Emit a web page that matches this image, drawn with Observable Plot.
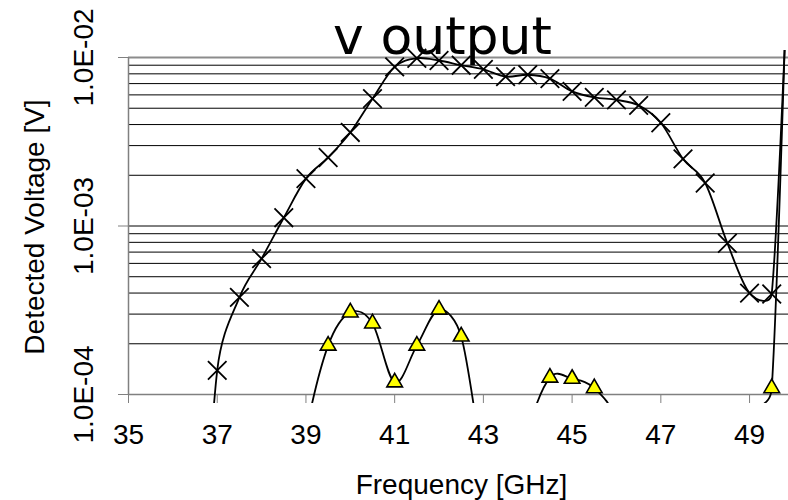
<!DOCTYPE html>
<html><head><meta charset="utf-8">
<script src="https://cdn.jsdelivr.net/npm/d3@7"></script>
<script src="https://cdn.jsdelivr.net/npm/@observablehq/plot@0.6"></script>
<style>body{margin:0;background:#fff;overflow:hidden}</style>
</head><body><div id="chart"></div>
<script>
const title = "v output";
const xLabel = "Frequency [GHz]";
const yLabel = "Detected Voltage [V]";
const xTicks = [35, 37, 39, 41, 43, 45, 47, 49];
const yTicks = [1e-4, 1e-3, 1e-2];
const gridValues = [1e-4,2e-4,3e-4,4e-4,5e-4,6e-4,7e-4,8e-4,9e-4,1e-3,2e-3,3e-3,4e-3,5e-3,6e-3,7e-3,8e-3,9e-3,1e-2];

// series with cross markers
const freqA = [36.5,37,37.5,38,38.5,39,39.5,40,40.5,41,41.5,42,42.5,43,43.5,44,44.5,45,45.5,46,46.5,47,47.5,48,48.5,49,49.5,50];
const voltA = [2e-6,1.39e-4,3.77e-4,6.4e-4,1.12e-3,1.91e-3,2.55e-3,3.59e-3,5.7e-3,8.8e-3,9.9e-3,9.6e-3,9.0e-3,8.5e-3,7.7e-3,7.9e-3,7.5e-3,6.3e-3,5.8e-3,5.6e-3,5.2e-3,4.1e-3,2.5e-3,1.8e-3,7.9e-4,4.0e-4,3.95e-4,0.23];
// series with yellow triangle markers
const freqB = [38.5,39,39.5,40,40.5,41,41.5,42,42.5,43,43.5,44,44.5,45,45.5,46,46.5,47,47.5,48,48.5,49,49.5,50];
const voltB = [1e-5,6e-5,1.95e-4,3.07e-4,2.64e-4,1.18e-4,1.95e-4,3.19e-4,2.21e-4,4e-5,1.5e-5,6e-5,1.26e-4,1.24e-4,1.09e-4,7e-5,2e-5,1e-5,1e-5,1e-5,2e-5,7e-5,1.09e-4,0.73];

const dataA = freqA.map((f, i) => ({f, v: voltA[i]}));
const dataB = freqB.map((f, i) => ({f, v: voltB[i]}));
const inRange = d => d.v >= 0.999e-4 && d.v <= 1.01e-2;
const fmt = d => { const e = Math.round(Math.log10(d)); return "1.0E" + (e < 0 ? "-" : "+") + String(Math.abs(e)).padStart(2, "0"); };

// spreadsheet-style smoothed line: Bezier with (P2-P0)/6 tangents, arms limited to half the segment
function smoothCurve(context) {
  let pts;
  return {
    areaStart() {}, areaEnd() {},
    lineStart() { pts = []; },
    point(x, y) { pts.push([+x, +y]); },
    lineEnd() {
      const n = pts.length;
      if (!n) return;
      context.moveTo(pts[0][0], pts[0][1]);
      for (let i = 0; i < n - 1; i++) {
        const p0 = pts[Math.max(i - 1, 0)], p1 = pts[i], p2 = pts[i + 1], p3 = pts[Math.min(i + 2, n - 1)];
        const half = Math.hypot(p2[0] - p1[0], p2[1] - p1[1]) / 2;
        let ax = (p2[0] - p0[0]) / 6, ay = (p2[1] - p0[1]) / 6;
        const la = Math.hypot(ax, ay); if (la > half) { ax *= half / la; ay *= half / la; }
        let bx = (p3[0] - p1[0]) / 6, by = (p3[1] - p1[1]) / 6;
        const lb = Math.hypot(bx, by); if (lb > half) { bx *= half / lb; by *= half / lb; }
        context.bezierCurveTo(p1[0] + ax, p1[1] + ay, p2[0] - bx, p2[1] - by, p2[0], p2[1]);
      }
    }
  };
}

const plot = Plot.plot({
  width: 788, height: 500,
  marginLeft: 128, marginRight: 0, marginTop: 57, marginBottom: 106,
  style: {fontFamily: "'Liberation Sans', Arial, sans-serif", background: "#fff", overflow: "visible"},
  x: {domain: [35, 49.878]},
  y: {type: "log", domain: [1e-4, 1e-2]},
  marks: [
    Plot.ruleY(gridValues, {stroke: "#000", strokeWidth: 1}),
    Plot.ruleY([1e-2], {stroke: "#8c8c8c", strokeWidth: 2}),
    Plot.ruleX([35], {stroke: "#808080", strokeWidth: 1.5}),
    Plot.ruleY([1e-4], {stroke: "#808080", strokeWidth: 1.5}),
    Plot.axisX({ticks: xTicks, tickSize: 9, tickPadding: 21, fontSize: 28, stroke: "#808080", fill: "#000", label: null}),
    Plot.axisY({ticks: yTicks, tickSize: 10, tickPadding: 25.5, tickRotate: -90, tickFormat: fmt, fontSize: 28, stroke: "#808080", fill: "#000", label: null}),
    Plot.line(dataA, {x: "f", y: "v", curve: smoothCurve, stroke: "#000", strokeWidth: 1.8, clip: true}),
    Plot.line(dataB, {x: "f", y: "v", curve: smoothCurve, stroke: "#000", strokeWidth: 1.8, clip: true}),
    Plot.dot(dataA.filter(inRange), {x: "f", y: "v", symbol: "times", r: 8.5, stroke: "#000", strokeWidth: 1.8}),
    Plot.dot(dataB.filter(inRange), {x: "f", y: "v", symbol: "triangle", r: 5.8, fill: "#ffff00", stroke: "#000", strokeWidth: 1.6}),
    Plot.text([title], {frameAnchor: "top", lineAnchor: "bottom", dy: -4, dx: -16, fontSize: 52, fontFamily: "'DejaVu Sans', sans-serif", fill: "#000"}),
    Plot.text([xLabel], {frameAnchor: "bottom", lineAnchor: "bottom", dy: 99, dx: 3, fontSize: 28, fill: "#000"}),
    Plot.text([yLabel], {frameAnchor: "left", textAnchor: "middle", lineAnchor: "bottom", rotate: -90, dx: -85, dy: 1, fontSize: 28, fill: "#000"})
  ]
});
// extend clip slightly beyond the plot frame, like the original chart
const yScale = plot.scale("y");
const clipTop = yScale.apply(1e-2) - 7, clipBottom = yScale.apply(1e-4) + 9;
d3.select(plot).selectAll("clipPath rect").attr("y", clipTop).attr("height", clipBottom - clipTop);
document.getElementById("chart").appendChild(plot);
</script>
</body></html>
